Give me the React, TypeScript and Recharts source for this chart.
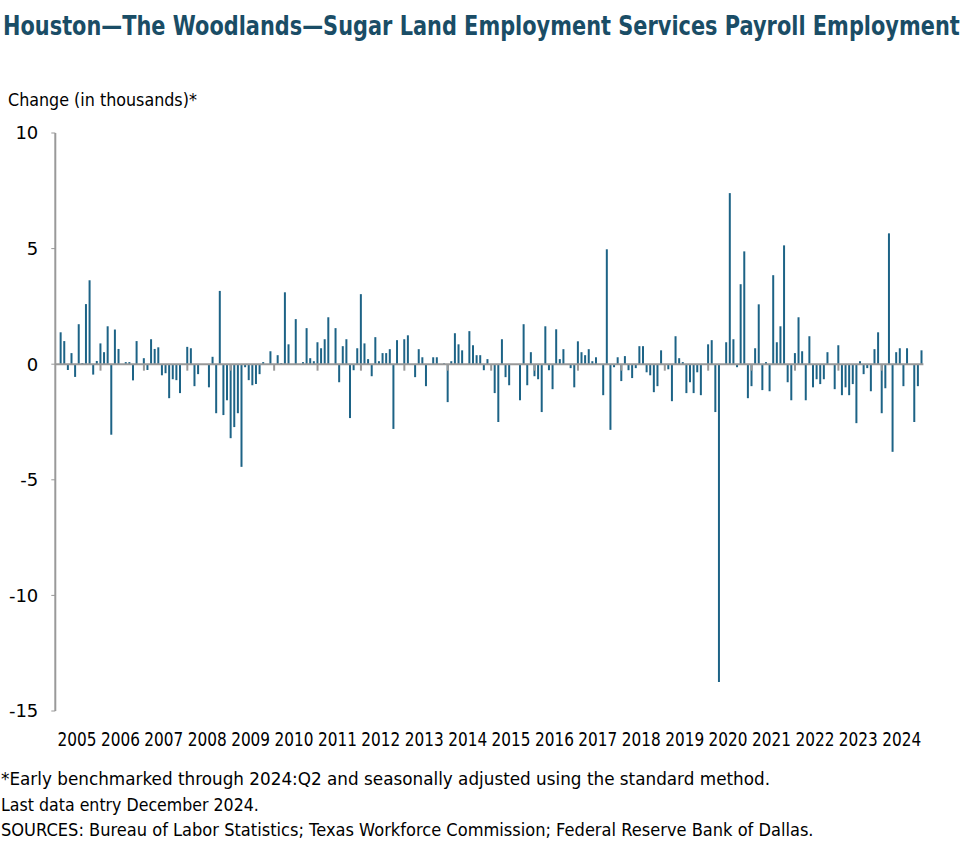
import React, { useLayoutEffect, useRef, useState } from "react";
import { BarChart, Bar, XAxis, YAxis, ReferenceLine } from "recharts";

// Monthly change in thousands; Jan 2005 has no prior month
const v2005 = [null, 1.38, 1.0, -0.25, 0.48, -0.55, 1.73, 0.05, 2.6, 3.63, -0.45, 0.14];
const v2006 = [0.9, 0.52, 1.64, -3.05, 1.5, 0.66, 0, 0.09, 0.09, -0.7, 1.0, 0];
const v2007 = [0.26, -0.25, 1.08, 0.66, 0.73, -0.48, -0.39, -1.47, -0.65, -0.69, -1.25, 0];
const v2008 = [0.75, 0.69, -0.95, -0.43, 0, 0, -1.0, 0.32, -2.12, 3.17, -2.2, -1.56];
const v2009 = [-3.2, -2.72, -2.12, -4.44, -0.13, -0.69, -0.91, -0.86, -0.43, 0.09, 0, 0.56];
const v2010 = [0, 0.39, 0.05, 3.11, 0.86, 0, 1.95, 0, 0.09, 1.56, 0.26, 0.13];
const v2011 = [0.95, 0.69, 1.08, 2.03, 0, 1.56, -0.78, 0.78, 1.08, -2.33, -0.26, 0.69];
const v2012 = [3.03, 0.9, 0.22, -0.52, 1.17, 0.13, 0.48, 0.48, 0.65, -2.8, 1.04, 0];
const v2013 = [1.08, 1.25, 0, -0.56, 0.65, 0.3, -0.95, 0, 0.3, 0.3, 0, 0.04];
const v2014 = [-1.64, 0.13, 1.34, 0.86, 0.6, 0, 1.43, 0.82, 0.39, 0.39, -0.26, 0.22];
const v2015 = [0, -1.25, -2.5, 1.08, -0.56, -0.91, 0, 0, -1.56, 1.73, -0.91, 0.52];
const v2016 = [-0.52, -0.65, -2.07, 1.64, -0.26, -1.08, 1.51, 0.22, 0.65, 0, -0.17, -1.0];
const v2017 = [0.99, 0.52, 0.39, 0.65, 0.13, 0.3, 0, -1.34, 4.97, -2.84, -0.13, 0.3];
const v2018 = [-0.73, 0.35, -0.26, -0.6, -0.17, 0.78, 0.78, -0.35, -0.48, -1.21, -0.95, 0.6];
const v2019 = [0, -0.22, -1.6, 1.21, 0.26, 0.09, -1.25, -0.78, -1.25, -0.35, -1.34, 0];
const v2020 = [0.86, 1.04, -2.07, -13.75, 0, 0.95, 7.4, 1.08, -0.13, 3.46, 4.88, -1.47];
const v2021 = [-0.95, 0.69, 2.59, -1.12, 0.09, -1.17, 3.85, 0.95, 1.64, 5.14, -0.78, -1.56];
const v2022 = [0.48, 2.03, 0.56, -1.56, 1.21, -1.0, -0.65, -0.86, -0.65, 0.52, 0, -1.08];
const v2023 = [0.82, -1.34, -1.0, -1.34, -0.86, -2.55, 0.13, -0.43, -0.17, -1.17, 0.65, 1.38];
const v2024 = [-2.12, -1.04, 5.66, -3.79, 0.52, 0.69, -0.95, 0.69, 0, -2.5, -0.95, 0.6];

const years = [2005, 2006, 2007, 2008, 2009, 2010, 2011, 2012, 2013, 2014, 2015, 2016, 2017, 2018, 2019, 2020, 2021, 2022, 2023, 2024];
const yearValues = [v2005, v2006, v2007, v2008, v2009, v2010, v2011, v2012, v2013, v2014, v2015, v2016, v2017, v2018, v2019, v2020, v2021, v2022, v2023, v2024];
const yTicks = [-15, -10, -5, 0, 5, 10];

const data = years.flatMap((yr, i) =>
  yearValues[i].map((v, m) => ({ date: `${yr}-${String(m + 1).padStart(2, "0")}`, change: v }))
);
const janTicks = years.map((yr) => `${yr}-01`);

const TITLE = "Houston—The Woodlands—Sugar Land Employment Services Payroll Employment";
const NOTES = [
  { text: "*Early benchmarked through 2024:Q2 and seasonally adjusted using the standard method.", w: 770 },
  { text: "Last data entry December 2024.", w: 258 },
  { text: "SOURCES: Bureau of Labor Statistics; Texas Workforce Commission; Federal Reserve Bank of Dallas.", w: 813 },
];

const FONT = "'DejaVu Sans', Arial, sans-serif";
const BAR = "#1d6386";
const AXIS = "#999999";

const CHART_W = 978;
const MARGIN = { top: 133, right: 54.6, bottom: 123, left: 15.3 };
const Y_W = 40;
const BAND = (CHART_W - MARGIN.left - MARGIN.right - Y_W) / data.length;

// Text squeezed horizontally to a target width (stands in for the narrow font of the original)
function FitText({ x, y, width, children, ...rest }: any) {
  const ref = useRef<SVGTextElement>(null);
  const [sx, setSx] = useState(1);
  useLayoutEffect(() => {
    if (ref.current) {
      const w = ref.current.getComputedTextLength();
      if (w > 0) setSx(Math.min(1, width / w));
    }
  }, [width, children]);
  return (
    <text ref={ref} x={0} y={0} transform={`translate(${x},${y}) scale(${sx},1)`} {...rest}>
      {children}
    </text>
  );
}

function YearTick(props: any) {
  const { x, y, payload } = props;
  return (
    <FitText x={x + 5.5 * BAND} y={y + 27} width={39} textAnchor="middle" fontSize={19} fill="#000" fontFamily={FONT}>
      {payload.value.slice(0, 4)}
    </FitText>
  );
}

export default function App() {
  return (
    <div style={{ position: "absolute", left: 0, top: 0, width: 978, height: 864, background: "#fff", fontFamily: FONT }}>
      <svg width={978} height={60} style={{ position: "absolute", left: 0, top: 0 }}>
        <FitText x={3} y={35} width={957} fontSize={26} fontWeight={700} fill="#1a4d66" fontFamily={FONT}>
          {TITLE}
        </FitText>
      </svg>
      <svg width={300} height={30} style={{ position: "absolute", left: 0, top: 86 }}>
        <FitText x={8} y={20} width={189} fontSize={17} fill="#000" fontFamily={FONT}>
          Change (in thousands)*
        </FitText>
      </svg>
      <BarChart width={CHART_W} height={864} data={data} margin={MARGIN} barCategoryGap="20%">
        <XAxis
          dataKey="date"
          ticks={janTicks}
          interval={0}
          axisLine={false}
          tickLine={false}
          height={30}
          tick={<YearTick />}
        />
        <YAxis
          domain={[-15, 10]}
          ticks={yTicks}
          width={Y_W}
          axisLine={{ stroke: AXIS, strokeWidth: 2 }}
          tickLine={{ stroke: AXIS }}
          tickSize={4}
          tickMargin={13}
          tick={{ fill: "#000", fontSize: 18, fontFamily: FONT }}
        />
        <Bar dataKey="change" fill={BAR} isAnimationActive={false} />
        <ReferenceLine y={0} stroke={AXIS} strokeWidth={2} />
        {janTicks.slice(1).map((d) => (
          <ReferenceLine
            key={d}
            segment={[{ x: d, y: 0 }, { x: d, y: -0.28 }]}
            stroke={AXIS}
            strokeWidth={2}
          />
        ))}
      </BarChart>
      <svg width={978} height={100} style={{ position: "absolute", left: 0, top: 760 }}>
        {NOTES.map((n, i) => (
          <FitText key={i} x={1} y={25 + i * 25.5} width={n.w} fontSize={18} fill="#000" fontFamily={FONT}>
            {n.text}
          </FitText>
        ))}
      </svg>
    </div>
  );
}
